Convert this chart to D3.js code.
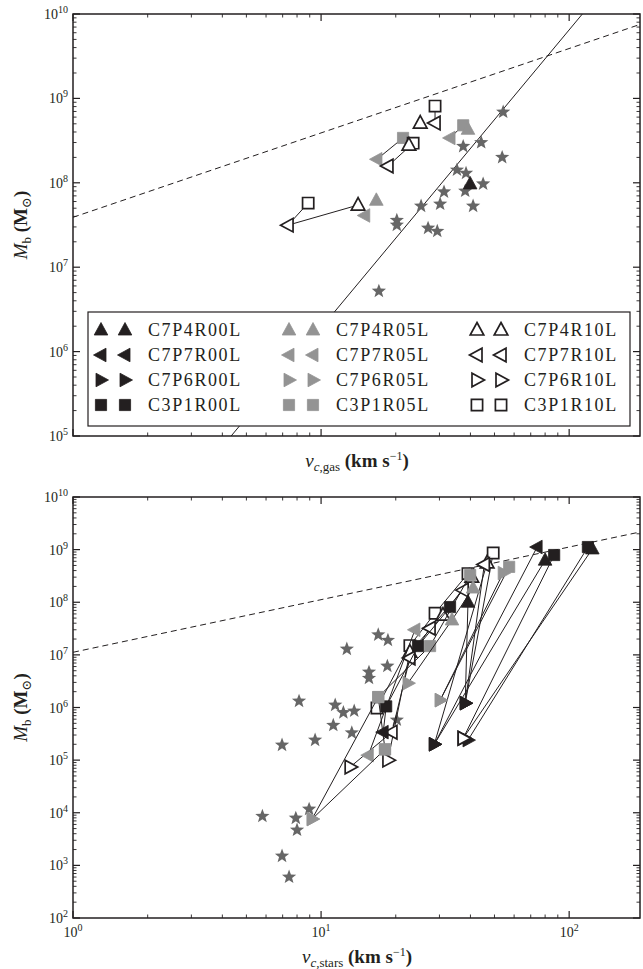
<!DOCTYPE html>
<html>
<head>
<meta charset="utf-8">
<script src="https://cdnjs.cloudflare.com/ajax/libs/d3/7.8.5/d3.min.js"></script>
<style>
  body { margin: 0; background: #fff; }
  svg { display: block; }
  text { font-family: "Liberation Serif", "DejaVu Serif", serif; fill: #231f20; }
</style>
</head>
<body>
<div id="chart"></div>
<script>
// runs, in legend order (columns = resolution, rows = set-up)
var runs = ["C7P4R00L", "C7P7R00L", "C7P6R00L", "C3P1R00L",
            "C7P4R05L", "C7P7R05L", "C7P6R05L", "C3P1R05L",
            "C7P4R10L", "C7P7R10L", "C7P6R10L", "C3P1R10L"];

// observed galaxies (stars), [v_c, M_b]
var starsGas = [[54.2, 6.9e8], [37.4, 2.7e8], [44.2, 3.0e8], [53.7, 2.0e8], [35.3, 1.42e8],
  [38.4, 1.3e8], [45.0, 9.7e7], [38.1, 8.0e7], [31.3, 7.8e7], [25.3, 5.3e7], [30.2, 5.6e7],
  [41.0, 5.3e7], [20.2, 3.6e7], [20.2, 3.15e7], [27.0, 2.9e7], [29.4, 2.67e7], [17.1, 5.2e6]];

var starsStars = [[17.0, 2.4e7], [18.6, 1.9e7], [12.7, 1.29e7], [15.6, 4.7e6], [15.6, 3.6e6],
  [18.5, 6.1e6], [8.15, 1.32e6], [11.4, 1.11e6], [12.3, 8.0e5], [13.6, 8.6e5], [11.2, 4.6e5],
  [13.3, 3.3e5], [9.46, 2.4e5], [6.96, 1.93e5], [20.2, 5.8e5], [5.8, 8.6e3], [7.91, 7.9e3],
  [8.0, 4.7e3], [8.95, 1.17e4], [6.96, 1.5e3], [7.43, 6.0e2]];

// simulated galaxies: each track is joined by a thin line
var tracksGas = [
  [["C3P1R10L", 8.87, 5.75e7], ["C7P7R10L", 7.36, 3.15e7], ["C7P4R10L", 14.1, 5.45e7]],
  [["C7P4R05L", 16.7, 6.2e7]],
  [["C7P7R05L", 15.0, 4.1e7]],
  [["C3P1R05L", 21.4, 3.4e8], ["C7P7R05L", 16.8, 1.9e8]],
  [["C3P1R10L", 23.5, 2.95e8], ["C7P7R10L", 18.6, 1.58e8]],
  [["C7P4R10L", 22.6, 2.8e8]],
  [["C3P1R10L", 28.8, 8.1e8], ["C7P7R10L", 28.8, 5.1e8]],
  [["C7P4R10L", 25.1, 5.1e8]],
  [["C7P7R05L", 33.1, 3.4e8], ["C3P1R05L", 37.4, 4.8e8]],
  [["C7P4R05L", 39.1, 4.3e8]],
  [["C7P4R00L", 39.9, 9.7e7]]
];

var tracksStars = [
  [["C3P1R00L", 119, 1.12e9], ["C7P6R00L", 39.1, 2.4e5]],
  [["C7P4R00L", 124, 1.03e9], ["C7P6R10L", 37.4, 2.6e5]],
  [["C7P7R00L", 74.3, 1.12e9], ["C7P6R00L", 28.6, 2.0e5]],
  [["C7P4R00L", 80.0, 6.3e8], ["C7P6R00L", 28.6, 2.0e5]],
  [["C3P1R00L", 87.0, 7.9e8], ["C7P6R10L", 37.4, 2.6e5]],
  [["C3P1R10L", 49.4, 8.6e8], ["C7P6R00L", 38.1, 1.21e6]],
  [["C7P4R10L", 46.7, 5.6e8], ["C7P6R00L", 28.6, 2.0e5]],
  [["C7P7R10L", 45.5, 5.2e8], ["C7P6R00L", 38.1, 1.21e6]],
  [["C3P1R05L", 57.3, 4.7e8], ["C7P6R05L", 30.2, 1.38e6]],
  [["C7P6R05L", 54.2, 3.6e8], ["C7P6R05L", 30.2, 1.38e6]],
  [["C3P1R10L", 39.1, 3.5e8], ["C3P1R10L", 28.8, 6.2e7], ["C3P1R10L", 22.8, 1.5e7], ["C3P1R10L", 16.8, 9.8e5]],
  [["C7P4R10L", 40.5, 3.0e8], ["C7P4R10L", 31.0, 5.7e7], ["C7P4R10L", 22.8, 1.13e7], ["C7P6R10L", 18.6, 1.0e5]],
  [["C7P7R10L", 37.4, 1.7e8], ["C7P7R10L", 27.5, 3.2e7], ["C7P7R10L", 22.8, 8.7e6], ["C7P7R10L", 19.3, 3.4e5], ["C7P6R10L", 13.1, 7.4e4]],
  [["C3P1R00L", 33.1, 8.1e7], ["C3P1R00L", 24.6, 1.47e7], ["C3P1R00L", 18.3, 1.05e6], ["C7P7R00L", 17.8, 3.4e5]],
  [["C7P4R00L", 39.1, 1.0e8], ["C7P6R00L", 38.1, 1.21e6]],
  [["C3P1R05L", 39.9, 3.3e8], ["C3P1R05L", 27.5, 1.47e7], ["C3P1R05L", 17.0, 1.58e6], ["C3P1R05L", 18.1, 1.6e5]],
  [["C7P7R05L", 23.9, 3.0e7], ["C7P7R05L", 15.5, 1.24e5]],
  [["C7P4R05L", 41.0, 1.86e8], ["C7P4R05L", 33.7, 4.6e7], ["C7P6R05L", 22.4, 2.9e6]],
  [["C7P6R05L", 9.2, 7.6e3], ["C3P1R05L", 17.0, 1.58e6]],
  [["C7P6R05L", 9.2, 7.6e3], ["C3P1R05L", 18.1, 1.6e5]]
];

// reference relations, two end points each
var btfrGas = [[4.34, 1e5], [200, 7.5e10]];
var dashedGas = [[1, 3.9e7], [200, 7.8e9]];
var dashedStars = [[1, 1.12e7], [200, 2.24e9]];

var xTickValues = [1, 10, 100];

var width = 643, height = 969;
var svg = d3.select("#chart").append("svg")
    .attr("width", width)
    .attr("height", height);

var x = d3.scaleLog().domain([1, 193]).range([73, 640]);

var panels = [
  {name: "gas", top: 14, bottom: 436, yDomain: [1e5, 1e10], sub: "c,gas",
   stars: starsGas, tracks: tracksGas, dashed: dashedGas, solid: btfrGas, xLabels: false, legend: true},
  {name: "stars", top: 497, bottom: 918, yDomain: [1e2, 1e10], sub: "c,stars",
   stars: starsStars, tracks: tracksStars, dashed: dashedStars, solid: null, xLabels: true, legend: false}
];

var ink = "#231f20";

function fillOf(run) {
  if (run.indexOf("R00") >= 0) return ink;
  if (run.indexOf("R05") >= 0) return "#939393";
  return "#fff";
}

function shapeOf(run) {
  if (run.indexOf("P4") >= 0) return "M0,-7.5L6.8,5L-6.8,5Z";
  if (run.indexOf("P7") >= 0) return "M-7.5,0L5,-6.8L5,6.8Z";
  if (run.indexOf("P6") >= 0) return "M7.5,0L-5,-6.8L-5,6.8Z";
  return "M-5.6,-5.6H5.6V5.6H-5.6Z";
}

function starPath(r) {
  var p = [];
  for (var i = 0; i < 10; i++) {
    var a = -Math.PI / 2 + i * Math.PI / 5;
    var rr = i % 2 ? r * 0.42 : r;
    p.push([rr * Math.cos(a), rr * Math.sin(a)]);
  }
  return "M" + p.map(function(d) { return d[0].toFixed(2) + "," + d[1].toFixed(2); }).join("L") + "Z";
}

function drawMarker(g, run, px, py) {
  var open = run.indexOf("R10") >= 0;
  g.append("path")
      .attr("transform", "translate(" + px + "," + py + ")")
      .attr("d", shapeOf(run))
      .attr("fill", fillOf(run))
      .attr("stroke", open ? ink : fillOf(run))
      .attr("stroke-width", open ? 1.7 : 0.8)
      .attr("stroke-linejoin", "miter");
}

function powLabel(sel, exp) {
  sel.append("tspan").text("10");
  sel.append("tspan").attr("dy", -6).attr("font-size", 10).text(exp);
}

panels.forEach(function(p) {
  var y = d3.scaleLog().domain(p.yDomain).range([p.bottom, p.top]);
  var g = svg.append("g");

  g.append("defs").append("clipPath").attr("id", "clip-" + p.name)
    .append("rect")
      .attr("x", x.range()[0]).attr("y", p.top)
      .attr("width", x.range()[1] - x.range()[0]).attr("height", p.bottom - p.top);

  var plot = g.append("g").attr("clip-path", "url(#clip-" + p.name + ")");

  var line = d3.line().x(function(d) { return x(d[0]); }).y(function(d) { return y(d[1]); });

  plot.append("path")
      .attr("d", line(p.dashed))
      .attr("fill", "none").attr("stroke", ink).attr("stroke-width", 1)
      .attr("stroke-dasharray", "6,4");

  if (p.solid) {
    plot.append("path")
        .attr("d", line(p.solid))
        .attr("fill", "none").attr("stroke", ink).attr("stroke-width", 1);
  }

  plot.selectAll(".star")
      .data(p.stars)
    .enter().append("path")
      .attr("class", "star")
      .attr("transform", function(d) { return "translate(" + x(d[0]) + "," + y(d[1]) + ")"; })
      .attr("d", starPath(7.5))
      .attr("fill", "#666");

  var tline = d3.line().x(function(d) { return x(d[1]); }).y(function(d) { return y(d[2]); });
  p.tracks.forEach(function(t) {
    if (t.length > 1) {
      plot.append("path")
          .attr("d", tline(t))
          .attr("fill", "none").attr("stroke", ink).attr("stroke-width", 1);
    }
    t.forEach(function(d) { drawMarker(plot, d[0], x(d[1]), y(d[2])); });
  });

  // ticks on all four sides, pointing in
  var yMajor = d3.range(Math.log10(p.yDomain[0]), Math.log10(p.yDomain[1]) + 1).map(function(e) { return Math.pow(10, e); });
  var yMinor = [];
  yMajor.slice(0, -1).forEach(function(m) { for (var k = 2; k < 10; k++) yMinor.push(m * k); });
  var xMinor = [];
  [1, 10, 100].forEach(function(m) { for (var k = 2; k < 10; k++) if (m * k < x.domain()[1]) xMinor.push(m * k); });

  var x0 = x.range()[0], x1 = x.range()[1];
  var ticks = g.append("g").attr("stroke", ink);
  function tick(x1_, y1_, x2_, y2_, w) {
    ticks.append("line").attr("x1", x1_).attr("y1", y1_).attr("x2", x2_).attr("y2", y2_).attr("stroke-width", w);
  }
  yMajor.forEach(function(v) { tick(x0, y(v), x0 + 7, y(v), 1.2); tick(x1, y(v), x1 - 7, y(v), 1.2); });
  yMinor.forEach(function(v) { tick(x0, y(v), x0 + 3.5, y(v), 0.9); tick(x1, y(v), x1 - 3.5, y(v), 0.9); });
  xTickValues.forEach(function(v) { tick(x(v), p.bottom, x(v), p.bottom - 7, 1.2); tick(x(v), p.top, x(v), p.top + 7, 1.2); });
  xMinor.forEach(function(v) { tick(x(v), p.bottom, x(v), p.bottom - 3.5, 0.9); tick(x(v), p.top, x(v), p.top + 3.5, 0.9); });

  g.append("rect")
      .attr("x", x0).attr("y", p.top)
      .attr("width", x1 - x0).attr("height", p.bottom - p.top)
      .attr("fill", "none").attr("stroke", ink).attr("stroke-width", 1.5);

  yMajor.forEach(function(v) {
    var t = g.append("text")
        .attr("x", x0 - 5).attr("y", y(v) + 5)
        .attr("text-anchor", "end").attr("font-size", 14);
    powLabel(t, Math.round(Math.log10(v)));
  });

  if (p.xLabels) {
    xTickValues.forEach(function(v) {
      var t = g.append("text")
          .attr("x", x(v)).attr("y", p.bottom + 19)
          .attr("text-anchor", "middle").attr("font-size", 14);
      powLabel(t, Math.round(Math.log10(v)));
    });
  }

  // axis titles
  var xt = g.append("text")
      .attr("x", 357).attr("y", p.bottom + (p.xLabels ? 45 : 31))
      .attr("text-anchor", "middle").attr("font-size", 19);
  xt.append("tspan").attr("font-style", "italic").text("v");
  xt.append("tspan").attr("dy", 4).attr("font-size", 13).attr("font-style", "italic").text(p.sub.slice(0, 1));
  xt.append("tspan").attr("font-size", 13).text(p.sub.slice(1));
  xt.append("tspan").attr("dy", -4).attr("font-weight", "bold").text(" (km s");
  xt.append("tspan").attr("dy", -7).attr("font-size", 12).text("\u22121");
  xt.append("tspan").attr("dy", 7).attr("font-weight", "bold").text(")");

  var yt = g.append("text")
      .attr("transform", "translate(27," + ((p.top + p.bottom) / 2) + ") rotate(-90)")
      .attr("text-anchor", "middle").attr("font-size", 19);
  yt.append("tspan").attr("font-style", "italic").text("M");
  yt.append("tspan").attr("dy", 4).attr("font-size", 13).text("b");
  yt.append("tspan").attr("dy", -4).attr("font-weight", "bold").text(" (M");
  yt.append("tspan").attr("dy", 4).attr("font-size", 13).text("\u2299");
  yt.append("tspan").attr("dy", -4).attr("font-weight", "bold").text(")");

  if (p.legend) {
    var lg = g.append("g");
    lg.append("rect")
        .attr("x", 88).attr("y", 312).attr("width", 542).attr("height", 114)
        .attr("fill", "#fff").attr("stroke", ink).attr("stroke-width", 1.2);
    runs.forEach(function(run, i) {
      var col = Math.floor(i / 4), row = i % 4;
      var lx = 101 + col * 188, ly = 330 + row * 25;
      drawMarker(lg, run, lx, ly);
      drawMarker(lg, run, lx + 24, ly);
      lg.append("text")
          .attr("x", lx + 47).attr("y", ly + 6)
          .attr("font-size", 18)
          .attr("letter-spacing", 1.6)
          .text(run);
    });
  }
});
</script>
</body>
</html>
